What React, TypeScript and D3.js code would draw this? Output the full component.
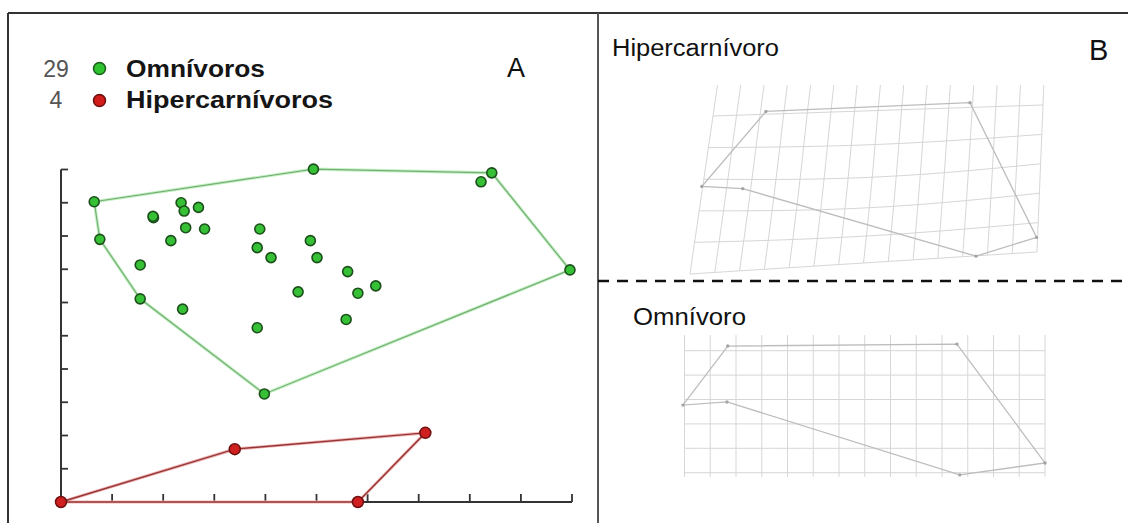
import React from 'react';
import * as d3 from 'd3';

// ---------- data ----------
const groupLabels = ['Omnívoros', 'Hipercarnívoros'];
const groupCounts = [29, 4];
const omniX = [0.65, 0.76, 1.55, 1.55, 1.81, 1.8, 2.35, 2.41, 2.69, 2.44, 2.81, 2.15, 2.38, 3.89, 3.84, 4.11, 3.84, 4.94, 4.88, 5.01, 4.64, 8.43, 8.22, 9.96, 5.61, 5.81, 6.16, 5.58, 3.98];
const omniY = [9.03, 7.9, 7.13, 6.11, 8.55, 8.59, 9.0, 8.75, 8.86, 8.25, 8.21, 7.86, 5.8, 8.21, 7.65, 7.35, 5.24, 10.01, 7.86, 7.35, 6.32, 9.9, 9.63, 6.98, 6.93, 6.28, 6.5, 5.49, 3.25];
const hiperX = [0, 3.4, 7.13, 5.81];
const hiperY = [0, 1.59, 2.08, 0];
const axisTicks = d3.range(0, 11);

// panel B: shape outlines in grid units (u: 0..14, v: 0..5)
const shapeTitles = ['Hipercarnívoro', 'Omnívoro'];
const hiperShapeU = [-0.04, 2.23, 10.89, 13.96, 11.54, 1.67];
const hiperShapeV = [2.23, -0.09, -0.16, 4.5, 5.01, 2.29];
const omniShapeU = [-0.06, 1.68, 10.58, 14.0, 10.69, 1.65];
const omniShapeV = [2.23, -0.19, -0.27, 4.6, 5.09, 2.1];
const gridCols = 14;
const gridRows = 5;

// ---------- layout ----------
const W = 1128;
const H = 523;
const x = d3.scaleLinear().domain([0, 10]).range([61, 572]);
const y = d3.scaleLinear().domain([0, 10]).range([502, 169.5]);

// deformed grid (hipercarnivoro) corners
const TL = [713, 116], TR = [1043, 105], BL = [690, 274], BR = [1037, 252];
const hiperMap = (u: number, v: number): [number, number] => {
  const s = u / gridCols, t = v / gridRows;
  const px = (1 - s) * (1 - t) * TL[0] + s * (1 - t) * TR[0] + (1 - s) * t * BL[0] + s * t * BR[0];
  let py = (1 - s) * (1 - t) * TL[1] + s * (1 - t) * TR[1] + (1 - s) * t * BL[1] + s * t * BR[1];
  if (t > 0 && t < 1) py += 6 * Math.sin(Math.PI * s) * Math.sin(Math.PI * t);
  return [px, py];
};
const omniU = d3.scaleLinear().domain([0, gridCols]).range([684.5, 1045]);
const omniV = d3.scaleLinear().domain([0, gridRows]).range([350.7, 472.7]);
const omniMap = (u: number, v: number): [number, number] => [omniU(u), omniV(v)];

const line = d3.line<[number, number]>();
const FONT = '"Liberation Sans", Arial, sans-serif';

function gridPaths(map: (u: number, v: number) => [number, number], vTop: number, vBot: number) {
  const paths: string[] = [];
  for (let i = 0; i <= gridCols; i++) {
    const pts = d3.range(0, 21).map((k) => map(i, vTop + ((vBot - vTop) * k) / 20));
    paths.push(line(pts) as string);
  }
  for (let j = 0; j <= gridRows; j++) {
    const pts = d3.range(0, 29).map((k) => map((gridCols * k) / 28, j));
    paths.push(line(pts) as string);
  }
  return paths;
}

export default function App() {
  const omniPts: [number, number][] = omniX.map((d, i) => [x(d), y(omniY[i])]);
  const hiperPts: [number, number][] = hiperX.map((d, i) => [x(d), y(hiperY[i])]);
  const omniHull = d3.polygonHull(omniPts) as [number, number][];
  const hiperHull = d3.polygonHull(hiperPts) as [number, number][];
  const closed = (pts: [number, number][]) => (line(pts) as string) + 'Z';

  const hiperShape = hiperShapeU.map((u, i) => hiperMap(u, hiperShapeV[i]));
  const omniShape = omniShapeU.map((u, i) => omniMap(u, omniShapeV[i]));

  const hiperGrid = gridPaths(hiperMap, -1, gridRows);
  const omniGrid = gridPaths(omniMap, -0.64, gridRows + 0.17);

  const legendRows = [
    { fill: '#2fc42f', stroke: '#1a5c1a' },
    { fill: '#d11c1c', stroke: '#6a0d0d' },
  ];

  return (
    <svg width={W} height={H} style={{ position: 'absolute', left: 0, top: 0, background: '#fff' }}>
      <defs>
        <clipPath id="clipHiper">
          <rect x={600} y={85} width={520} height={195} />
        </clipPath>
      </defs>
      <rect x={0} y={0} width={W} height={H} fill="#fff" />
      {/* frame */}
      <line x1={8} y1={13} x2={W} y2={13} stroke="#333" strokeWidth={2} />
      <line x1={8} y1={13} x2={8} y2={H} stroke="#333" strokeWidth={2} />
      <line x1={598} y1={13} x2={598} y2={H} stroke="#555" strokeWidth={2} />
      <line x1={598} y1={281} x2={W} y2={281} stroke="#111" strokeWidth={2.5} strokeDasharray="11 8" />

      {/* legend */}
      {groupLabels.map((lab, i) => (
        <g key={lab}>
          <text x={56} y={77 + i * 31} textAnchor="middle" fontFamily={FONT} fontSize={23} fill="#555">
            {groupCounts[i]}
          </text>
          <circle cx={99.5} cy={68.5 + i * 32} r={6} fill={legendRows[i].fill} stroke={legendRows[i].stroke} strokeWidth={1.5} />
          <text x={126} y={77 + i * 31} fontFamily={FONT} fontSize={23} fontWeight="bold" fill="#151515"
            textLength={i === 0 ? 139 : 207} lengthAdjust="spacingAndGlyphs">
            {lab}
          </text>
        </g>
      ))}
      <text x={507} y={77} fontFamily={FONT} fontSize={27} fill="#111">A</text>

      {/* axes */}
      <line x1={x(0)} y1={y(10)} x2={x(0)} y2={y(0)} stroke="#333" strokeWidth={2} />
      <line x1={x(0)} y1={y(0)} x2={x(10)} y2={y(0)} stroke="#333" strokeWidth={2} />
      {axisTicks.map((t) => (
        <g key={'t' + t}>
          <line x1={x(0)} y1={y(t)} x2={x(0) + 7} y2={y(t)} stroke="#333" strokeWidth={1.8} />
          <line x1={x(t)} y1={y(0)} x2={x(t)} y2={y(0) - 8} stroke="#333" strokeWidth={1.8} />
        </g>
      ))}

      {/* hulls */}
      <path d={closed(omniHull)} fill="none" stroke="#c2f2c2" strokeWidth={3.2} />
      <path d={closed(omniHull)} fill="none" stroke="#78ad78" strokeWidth={1.2} />
      <path d={closed(hiperHull)} fill="none" stroke="#f2b5b5" strokeWidth={3.2} />
      <path d={closed(hiperHull)} fill="none" stroke="#943636" strokeWidth={1.4} />

      {/* points */}
      {omniPts.map((p, i) => (
        <circle key={'o' + i} cx={p[0]} cy={p[1]} r={5} fill="#35c035" stroke="#1c4f1c" strokeWidth={1.6} />
      ))}
      {hiperPts.map((p, i) => (
        <circle key={'h' + i} cx={p[0]} cy={p[1]} r={5.5} fill="#cf1f1f" stroke="#6e1010" strokeWidth={1.5} />
      ))}

      {/* panel B */}
      <text x={612} y={56} fontFamily={FONT} fontSize={23} fill="#111" textLength={167} lengthAdjust="spacingAndGlyphs">
        {shapeTitles[0]}
      </text>
      <text x={1089} y={60} fontFamily={FONT} fontSize={29} fill="#111">B</text>
      <text x={633} y={325} fontFamily={FONT} fontSize={23} fill="#111" textLength={113} lengthAdjust="spacingAndGlyphs">
        {shapeTitles[1]}
      </text>

      <g clipPath="url(#clipHiper)">
        {hiperGrid.map((d, i) => (
          <path key={'hg' + i} d={d} fill="none" stroke="#d6d6d6" strokeWidth={1} />
        ))}
      </g>
      {omniGrid.map((d, i) => (
        <path key={'og' + i} d={d} fill="none" stroke="#d6d6d6" strokeWidth={1} />
      ))}
      <path d={closed(hiperShape)} fill="none" stroke="#bdbdbd" strokeWidth={1.3} />
      <path d={closed(omniShape)} fill="none" stroke="#bdbdbd" strokeWidth={1.3} />
      {hiperShape.concat(omniShape).map((p, i) => (
        <circle key={'sv' + i} cx={p[0]} cy={p[1]} r={1.7} fill="#a5a5a5" />
      ))}
    </svg>
  );
}
